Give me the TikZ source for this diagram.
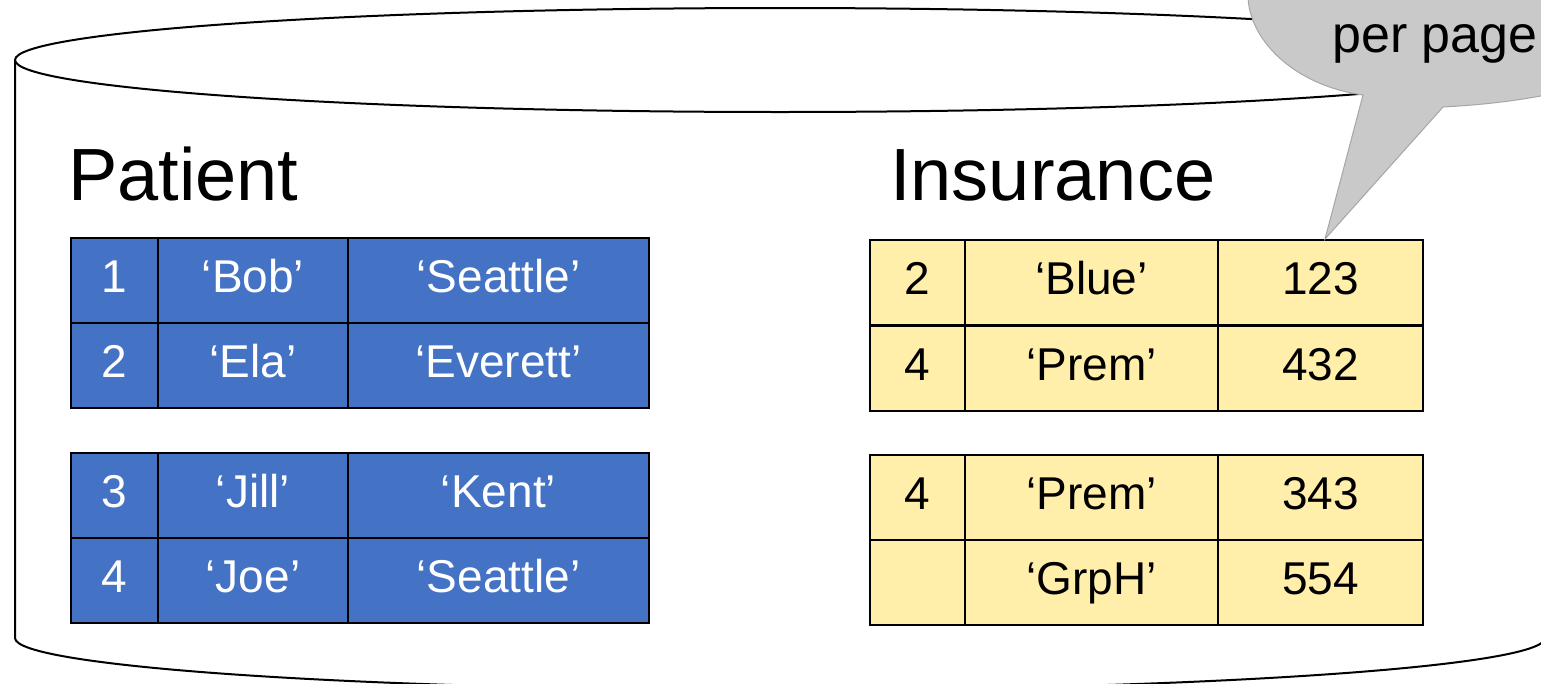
\documentclass[tikz,border=0pt]{standalone}
\usepackage{fontspec}
\setmainfont{Liberation Sans}
\definecolor{pblue}{HTML}{4472C4}
\definecolor{iyellow}{HTML}{FFEFAA}
\definecolor{cgray}{HTML}{C9C9C9}
\definecolor{cedge}{HTML}{A6A6A6}
\tikzset{
  cyl/.style={draw=black, line width=2pt},
  cellbase/.style={draw=black, line width=2pt, inner sep=0pt, anchor=north west,
    minimum height=85pt, text height=33pt, text depth=10pt,
    font=\fontsize{46}{52}\selectfont},
  pcell/.style={cellbase, fill=pblue, text=white},
  icell/.style={cellbase, fill=iyellow, text=black},
  title/.style={font=\fontsize{74}{82}\selectfont, anchor=base west, inner sep=0pt},
  callout/.style={draw=cedge, line width=1pt, fill=cgray},
  callouttext/.style={font=\fontsize{52}{58}\selectfont, anchor=base west, inner sep=0pt},
}
\begin{document}
\begin{tikzpicture}[x=1pt,y=-1pt]
\useasboundingbox (0,0) rectangle (1541,683);
\fill[white] (0,0) rectangle (1541,683);
\clip (0,0) rectangle (1541,683);
% cylinder
\fill[white] (15,60) -- (15,638) arc[start angle=180, end angle=360, x radius=765pt, y radius=52pt] -- (1545,60) -- cycle;
\draw[cyl] (15,60) -- (15,638) arc[start angle=180, end angle=360, x radius=765pt, y radius=52pt] -- (1545,60);
\draw[cyl, fill=white] (780,60) ellipse [x radius=765pt, y radius=52pt];
% titles
\node[title] (patient) at (68,200) {Patient};
\node[title] (insurance) at (890,200) {Insurance};
% Patient page 1
\node[pcell, minimum width=87pt]  (p11) at (70,237)  {1};
\node[pcell, minimum width=190pt] (p12) at (157,237) {‘Bob’};
\node[pcell, minimum width=301pt] (p13) at (347,237) {‘Seattle’};
\node[pcell, minimum width=87pt]  (p21) at (70,322)  {2};
\node[pcell, minimum width=190pt] (p22) at (157,322) {‘Ela’};
\node[pcell, minimum width=301pt] (p23) at (347,322) {‘Everett’};
% Patient page 2
\node[pcell, minimum width=87pt]  (p31) at (70,452)  {3};
\node[pcell, minimum width=190pt] (p32) at (157,452) {‘Jill’};
\node[pcell, minimum width=301pt] (p33) at (347,452) {‘Kent’};
\node[pcell, minimum width=87pt]  (p41) at (70,537)  {4};
\node[pcell, minimum width=190pt] (p42) at (157,537) {‘Joe’};
\node[pcell, minimum width=301pt] (p43) at (347,537) {‘Seattle’};
% Insurance page 1
\node[icell, minimum width=95pt]  (i11) at (869,239)  {2};
\node[icell, minimum width=253pt] (i12) at (964,239)  {‘Blue’};
\node[icell, minimum width=205pt] (i13) at (1217,239) {123};
\node[icell, minimum width=95pt]  (i21) at (869,325)  {4};
\node[icell, minimum width=253pt] (i22) at (964,325)  {‘Prem’};
\node[icell, minimum width=205pt] (i23) at (1217,325) {432};
% Insurance page 2
\node[icell, minimum width=95pt]  (i31) at (869,454)  {4};
\node[icell, minimum width=253pt] (i32) at (964,454)  {‘Prem’};
\node[icell, minimum width=205pt] (i33) at (1217,454) {343};
\node[icell, minimum width=95pt]  (i41) at (869,539)  {};
\node[icell, minimum width=253pt] (i42) at (964,539)  {‘GrpH’};
\node[icell, minimum width=205pt] (i43) at (1217,539) {554};
% callout
\draw[callout] (1248,-20) -- (1248,-5) .. controls (1248,38) and (1292,85) .. (1363,95)
  -- (i13.north west -| 1325,0) -- (1443,107) .. controls (1480,105) and (1520,101) .. (1560,92)
  -- (1560,-20) -- cycle;
\node[callouttext] (pp) at (1332,52) {per page};
\end{tikzpicture}
\end{document}
